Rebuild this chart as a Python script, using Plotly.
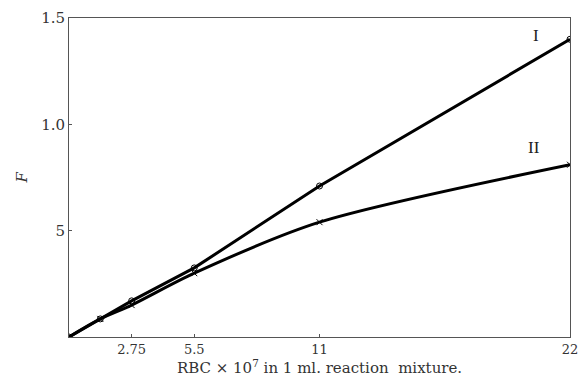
import plotly.graph_objects as go

# Data
x_vals = [0, 1.375, 2.75, 5.5, 11, 22]
curve_I = [0, 0.085, 0.17, 0.325, 0.71, 1.40]
curve_II = [0, 0.085, 0.15, 0.30, 0.54, 0.81]
x_ticks = [2.75, 5.5, 11, 22]
x_tick_labels = ["2.75", "5.5", "11", "22"]
y_ticks = [0.5, 1.0, 1.5]
y_tick_labels = ["5", "1.0", "1.5"]

font_family = "DejaVu Serif, Liberation Serif, serif"

fig = go.Figure()
fig.add_trace(go.Scatter(
    x=x_vals, y=curve_I, mode="lines+markers", name="I",
    line=dict(color="black", width=3),
    marker=dict(symbol="circle-open", size=6,
                color="black", line=dict(width=1, color="black")),
))
fig.add_trace(go.Scatter(
    x=x_vals, y=curve_II, mode="lines+markers", name="II",
    line=dict(color="black", width=3, shape="spline", smoothing=0.8),
    marker=dict(symbol="x-thin", size=6, color="black",
                line=dict(width=1, color="black")),
))

fig.add_annotation(x=20.5, y=1.42, text="I", showarrow=False,
                   font=dict(family="Liberation Serif, serif", size=17, color="#222"))
fig.add_annotation(x=20.4, y=0.89, text="II", showarrow=False,
                   font=dict(family="Liberation Serif, serif", size=17, color="#222"))
fig.add_annotation(xref="paper", yref="paper", x=-0.094, y=0.5, text="<i>F</i>",
                   showarrow=False, xanchor="center", yanchor="middle", textangle=-90,
                   font=dict(family=font_family, size=15, color="#333"))

fig.update_layout(
    width=579, height=383,
    margin=dict(l=69, r=9, t=18, b=46),
    paper_bgcolor="white", plot_bgcolor="white",
    showlegend=False,
    font=dict(family=font_family, size=13, color="#333"),
)
fig.update_xaxes(
    range=[0, 22], tickvals=x_ticks, ticktext=x_tick_labels,
    automargin=False,
    showgrid=False, zeroline=False, showline=True, linecolor="#555", linewidth=1,
    mirror=True, ticks="inside", ticklen=3, tickcolor="#555",
    tickfont=dict(family=font_family, size=13, color="#333"),
    title=dict(text="RBC × 10<sup>7</sup> in 1 ml. reaction  mixture.", standoff=4,
               font=dict(family=font_family, size=15, color="#333")),
)
fig.update_yaxes(
    range=[0, 1.5], tickvals=y_ticks, ticktext=y_tick_labels,
    automargin=False,
    showgrid=False, zeroline=False, showline=True, linecolor="#555", linewidth=1,
    mirror=True, ticks="inside", ticklen=3, tickcolor="#555",
    ticklabelstandoff=0,
    tickfont=dict(family=font_family, size=15, color="#333"),
)

fig.write_html(
    "out.html",
    config={"displayModeBar": False},
    post_script="document.body.style.margin='0';document.body.style.overflow='hidden';",
)
